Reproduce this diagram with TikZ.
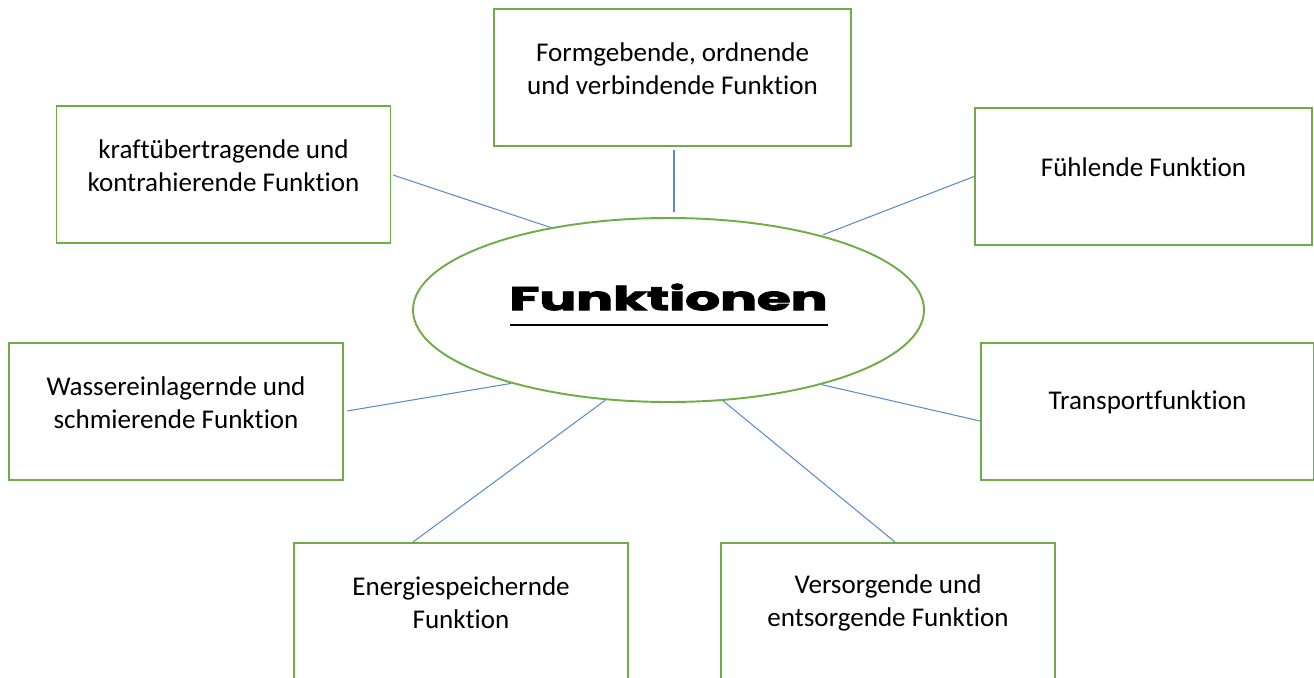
\documentclass[tikz,border=0pt]{standalone}
\usepackage{fontspec}
\setmainfont{Carlito}[Ligatures=NoCommon]
\newfontfamily\titlefont{Poppins}[BoldFeatures={FakeBold=2.5}]
\usepackage{graphicx}
\usetikzlibrary{shapes, positioning}

\definecolor{boxgreen}{HTML}{70AD47}
\definecolor{lineblue}{HTML}{5B8BD0}

\begin{document}
\begin{tikzpicture}[>=stealth]
        % Stile
        \tikzstyle{block} = [draw=boxgreen, line width=1.1pt, rectangle, minimum width=6.68cm, minimum height=2.74cm]
        \tikzstyle{txt} = [align=center, inner sep=0pt, font=\fontsize{15.4}{18.8}\selectfont]
        \tikzstyle{hub} = [draw=boxgreen, line width=1.1pt, ellipse, inner sep=0pt, minimum width=10.22cm, minimum height=3.68cm]
        \tikzstyle{link} = [draw=lineblue, line width=0.6pt]

        \useasboundingbox (0,0) rectangle (26.28,-13.54);

        % Mitte
        \node[hub] (fkt) at (13.37,-6.2) {\raisebox{0.1cm}[0.53cm][0.323cm]{\resizebox{6.36cm}{0.53cm}{\titlefont\bfseries Funktionen}\llap{\rule[-0.323cm]{6.36cm}{0.05cm}}}};

        % Kästen oben
        \node[block, minimum width=7.14cm] (form) at (13.45,-1.55) {};
        \node[txt] (formtxt) at ([yshift=0.18cm]form.center) {Formgebende, ordnende\\und verbindende Funktion};
        \node[block] (kraft) at (4.47,-3.49) {};
        \node[txt] (krafttxt) at ([yshift=0.18cm]kraft.center) {kraftübertragende und\\kontrahierende Funktion};
        \node[block, minimum width=6.74cm] (fuehl) at (22.87,-3.53) {};
        \node[txt] (fuehltxt) at ([yshift=0.18cm]fuehl.center) {Fühlende Funktion};

        % Kästen Mitte
        \node[block] (wasser) at (3.52,-8.23) {};
        \node[txt] (wassertxt) at ([yshift=0.18cm]wasser.center) {Wassereinlagernde und\\schmierende Funktion};
        \node[block, minimum width=6.66cm] (trans) at (22.95,-8.23) {};
        \node[txt] (transtxt) at ([yshift=0.18cm]trans.center) {Transportfunktion};

        % Kästen unten
        \node[block] (energie) at (9.22,-12.23) {};
        \node[txt] (energietxt) at ([yshift=0.18cm]energie.center) {Energiespeichernde\\Funktion};
        \node[block] (versorg) at (17.76,-12.23) {};
        \node[txt] (versorgtxt) at ([yshift=0.18cm]versorg.center) {Versorgende und\\entsorgende Funktion};

        % Verbindungen
        \draw[link, shorten <=2pt, shorten >=3pt] ([xshift=0.03cm]form.south) -- ([xshift=0.03cm]form.south |- fkt.north);
        \draw[link, shorten <=1pt] (kraft.east) -- (fkt.145);
        \draw[link, shorten >=1pt] (fuehl.west) -- (fkt.26);
        \draw[link, shorten <=2pt] (wasser.east) -- (fkt.205);
        \draw[link] ([yshift=-0.19cm]trans.west) -- (fkt.334);
        \draw[link] ([xshift=-0.96cm]energie.north) -- (fkt.235);
        \draw[link] ([xshift=0.14cm]versorg.north) -- (fkt.301);
    \end{tikzpicture}
\end{document}
